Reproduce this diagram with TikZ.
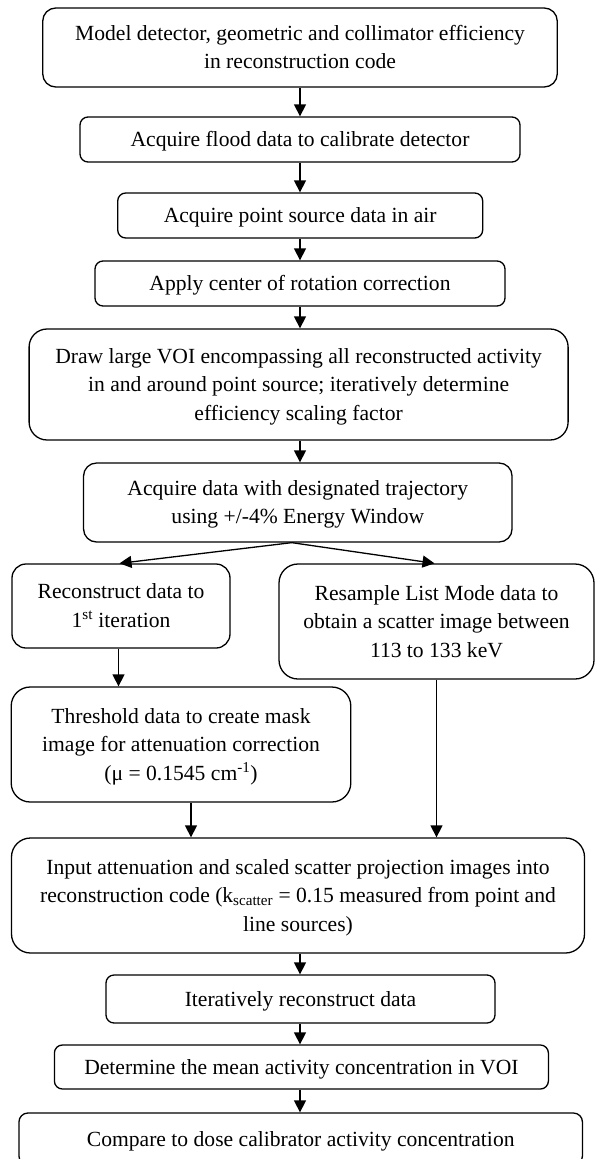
\documentclass[tikz,border=0pt]{standalone}
\usepackage{fontspec}
\setmainfont{Liberation Serif}
\usetikzlibrary{arrows.meta,calc}
\newcommand\boxtxt[1]{\raisebox{-1.5pt}[\height][\depth]{\begin{tabular}{@{}c@{}}#1\end{tabular}}}
\tikzset{
  box/.style={draw, line width=1.3pt, inner sep=0pt,
    font=\fontsize{21.6}{28.5}\selectfont},
  arr/.style={line width=1.3pt, -{Triangle[length=12pt,width=12pt]}},
}
\begin{document}
\begin{tikzpicture}[x=1pt,y=-1pt]
\useasboundingbox (0,0) rectangle (595,1159);
\node[box, minimum width=514.5pt, minimum height=79pt, rounded corners=13pt] (b1) at (300,47.5)
  {\boxtxt{Model detector, geometric and collimator efficiency\\in reconstruction code}};
\node[box, minimum width=440pt, minimum height=45pt, rounded corners=8pt] (b2) at (300,139.5)
  {\boxtxt{Acquire flood data to calibrate detector}};
\node[box, minimum width=365pt, minimum height=45pt, rounded corners=8pt] (b3) at (300.2,215.5)
  {\boxtxt{Acquire point source data in air}};
\node[box, minimum width=410pt, minimum height=45pt, rounded corners=8pt] (b4) at (300,283.5)
  {\boxtxt{Apply center of rotation correction}};
\node[box, minimum width=539pt, minimum height=111pt, rounded corners=18pt] (b5) at (298.6,384.5)
  {\boxtxt{Draw large VOI encompassing all reconstructed activity\\in and around point source; iteratively determine\\efficiency scaling factor}};
\node[box, minimum width=428.5pt, minimum height=79pt, rounded corners=13pt] (b6) at (297.8,502.5)
  {\boxtxt{Acquire data with designated trajectory\\using +/-4\% Energy Window}};
\node[box, minimum width=218pt, minimum height=84pt, rounded corners=14pt] (b7) at (121,606)
  {\boxtxt{Reconstruct data to\\1\textsuperscript{st} iteration}};
\node[box, minimum width=315pt, minimum height=115pt, rounded corners=19pt] (b8) at (436.5,621.5)
  {\boxtxt{Resample List Mode data to\\obtain a scatter image between\\113 to 133 keV}};
\node[box, minimum width=339.6pt, minimum height=115pt, rounded corners=19pt] (b9) at (181,744.5)
  {\boxtxt{Threshold data to create mask\\image for attenuation correction\\(μ = 0.1545 cm\textsuperscript{-1})}};
\node[box, minimum width=573pt, minimum height=115pt, rounded corners=19pt] (b10) at (298,895.5)
  {\boxtxt{Input attenuation and scaled scatter projection images into\\reconstruction code (k\textsubscript{scatter} = 0.15 measured from point and\\line sources)}};
\node[box, minimum width=389pt, minimum height=48pt, rounded corners=8pt] (b11) at (300.5,999)
  {\boxtxt{Iteratively reconstruct data}};
\node[box, minimum width=494pt, minimum height=44pt, rounded corners=8pt] (b12) at (301.4,1067)
  {\boxtxt{Determine the mean activity concentration in VOI}};
\node[box, minimum width=563.5pt, minimum height=52pt, rounded corners=9pt] (b13) at (300.7,1139)
  {\boxtxt{Compare to dose calibrator activity concentration}};
\draw[arr] (b1.south -| 300,0) -- (b2.north -| 300,0);
\draw[arr] (b2.south -| 300,0) -- (b3.north -| 300,0);
\draw[arr] (b3.south -| 300,0) -- (b4.north -| 300,0);
\draw[arr] (b4.south -| 300,0) -- (b5.north -| 300,0);
\draw[arr] (b5.south -| 300,0) -- (b6.north -| 300,0);
\coordinate (split) at ([xshift=-6pt]b6.south);
\draw[arr] (split) -- ([xshift=-1.5pt]b7.north);
\draw[arr] (split) -- ([xshift=-2pt]b8.north);
\draw[arr] ([xshift=-2.5pt]b7.south) -- ([xshift=-2.5pt]b7.south |- b9.north);
\draw[arr] ([xshift=10pt]b9.south) -- ([xshift=10pt]b9.south |- b10.north);
\draw[arr] (b8.south) -- (b8.south |- b10.north);
\draw[arr] (b10.south -| 300,0) -- (b11.north -| 300,0);
\draw[arr] (b11.south -| 300,0) -- (b12.north -| 300,0);
\draw[arr] (b12.south -| 300,0) -- (b13.north -| 300,0);
\end{tikzpicture}
\end{document}
